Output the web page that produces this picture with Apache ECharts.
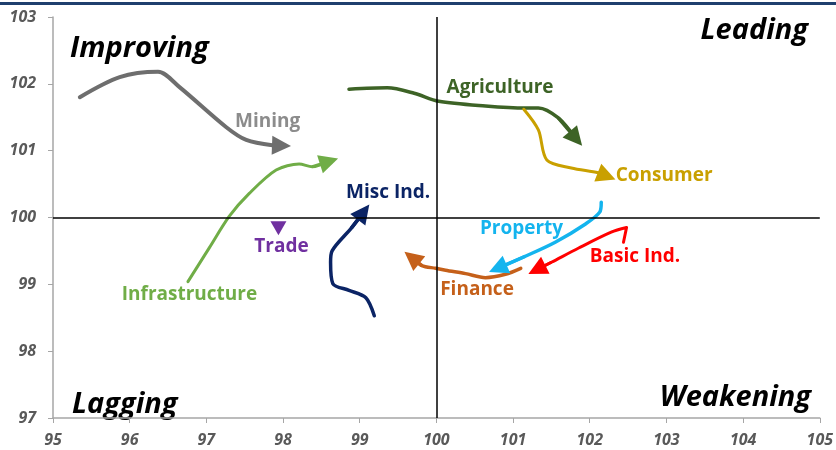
<!DOCTYPE html>
<html><head><meta charset="utf-8">
<script src="https://cdn.jsdelivr.net/npm/echarts@6/dist/echarts.min.js"></script>
<style>html,body{margin:0;padding:0;background:#fff}#c{width:836px;height:450px}</style>
</head><body><div id="c"></div>
<script>
var sectors = ['Mining','Infrastructure','Misc Ind.','Agriculture','Consumer','Property','Basic Ind.','Finance'];
var colors = ['#6E6E6E','#70AD47','#0B2465','#3D6326','#C9A000','#14B4EE','#FF0000','#C5601A'];
var widths = [4,3,3.5,3.5,3,3.5,3,3.5];
var mining = [[95.35,101.80],[95.87,102.10],[96.37,102.18],[96.65,101.95],[97.26,101.35],[97.52,101.16],[97.86,101.08],[97.98,101.075]];
var infrastructure = [[96.76,99.04],[97.04,99.55],[97.30,100.02],[97.56,100.36],[97.91,100.71],[98.21,100.80],[98.38,100.76],[98.60,100.84]];
var miscInd = [[99.19,98.53],[99.08,98.80],[98.86,98.91],[98.65,99.01],[98.62,99.33],[98.64,99.50],[98.89,99.84],[99.05,100.08]];
var agriculture = [[98.86,101.92],[99.36,101.94],[99.71,101.86],[100.03,101.74],[100.64,101.67],[101.16,101.64],[101.33,101.64],[101.59,101.49],[101.82,101.18]];
var consumer = [[101.14,101.62],[101.33,101.31],[101.44,100.86],[101.76,100.74],[102.11,100.67],[102.22,100.62]];
var property = [[102.15,100.23],[102.13,100.08],[101.94,99.90],[101.55,99.63],[101.16,99.42],[100.80,99.24]];
var basicInd = [[102.44,99.63],[102.48,99.85],[102.28,99.78],[101.85,99.54],[101.50,99.33],[101.31,99.22]];
var finance = [[101.10,99.24],[100.90,99.15],[100.64,99.10],[100.38,99.16],[100.12,99.21],[99.99,99.24],[99.81,99.28],[99.68,99.40]];
var trails = [mining, infrastructure, miscInd, agriculture, consumer, property, basicInd, finance];
var trade = [[97.94,99.84]];
var labelNames = ['Mining','Agriculture','Consumer','Property','Basic Ind.','Finance','Trade','Infrastructure','Misc Ind.'];
var labelColors = ['#8C8C8C','#3D6326','#C9A000','#14B4EE','#FF0000','#C5601A','#7030A0','#70AD47','#0B2465'];
var labelPos = [[97.80,101.43],[100.83,101.94],[102.97,100.62],[101.11,99.84],[102.59,99.42],[100.53,98.92],[97.98,99.57],[96.78,98.85],[99.37,100.38]];
var xTicks = [95,96,97,98,99,100,101,102,103,104,105];
var yTicks = [97,98,99,100,101,102,103];

var series = [];
trails.forEach(function(d,i){
  series.push({type:'line',data:d,smooth:0.3,symbol:'none',z:3,
    lineStyle:{color:colors[i],width:widths[i],cap:'round',join:'round'},silent:true});
  var n=d.length;
  series.push({type:'lines',coordinateSystem:'cartesian2d',z:4,silent:true,
    symbol:['none','triangle'],symbolSize:[18,19],
    lineStyle:{color:colors[i],width:widths[i],opacity:1,curveness:0},
    data:[{coords:[d[n-2],d[n-1]]}]});
});
series.push({type:'scatter',data:trade,symbol:'triangle',symbolRotate:180,symbolSize:[16,14],
  itemStyle:{color:'#7030A0',opacity:1},z:4,silent:true});
series.push({type:'scatter',symbolSize:0,silent:true,z:5,itemStyle:{opacity:1},
  data:labelPos.map(function(p,i){return {value:p,label:{show:true,position:'inside',formatter:labelNames[i],color:labelColors[i],
    fontFamily:'Open Sans',fontWeight:700,fontSize:19}};}),
  label:{show:true}});
series.push({type:'line',data:[],markLine:{silent:true,symbol:'none',label:{show:false},
  lineStyle:{color:'#000',width:1.5,type:'solid'},data:[{xAxis:100},{yAxis:100}]}});

function axisLbl(m){return {margin:m,color:'#595959',fontFamily:'Open Sans',fontWeight:700,fontStyle:'italic',fontSize:16};}
var quad = {fontFamily:'Open Sans',fontWeight:700,fontStyle:'italic',fontSize:29,fill:'#000'};
var chart = echarts.init(document.getElementById('c'));
chart.setOption({
  animation:false,
  grid:{left:53,right:14,top:17,bottom:32,containLabel:false},
  xAxis:{type:'value',min:xTicks[0],max:xTicks[xTicks.length-1],interval:1,
    axisLine:{lineStyle:{color:'#A6A6A6',width:1.5}},axisTick:{show:true,length:5,lineStyle:{color:'#A6A6A6'}},
    splitLine:{show:false},axisLabel:axisLbl(14)},
  yAxis:{type:'value',min:yTicks[0],max:yTicks[yTicks.length-1],interval:1,
    axisLine:{show:true,lineStyle:{color:'#A6A6A6',width:1.5}},axisTick:{show:true,length:5,lineStyle:{color:'#A6A6A6'}},
    splitLine:{show:false},axisLabel:axisLbl(17)},
  graphic:[
    {type:'rect',shape:{x:0,y:2,width:836,height:3},style:{fill:'#1F3F6E'},z:10},
    {type:'text',left:70,top:34,style:Object.assign({text:'Improving'},quad)},
    {type:'text',right:28,top:16,style:Object.assign({text:'Leading'},quad)},
    {type:'text',left:72,top:390,style:Object.assign({text:'Lagging'},quad)},
    {type:'text',right:25,top:383,style:Object.assign({text:'Weakening'},quad)}
  ],
  series:series
});
</script></body></html>
